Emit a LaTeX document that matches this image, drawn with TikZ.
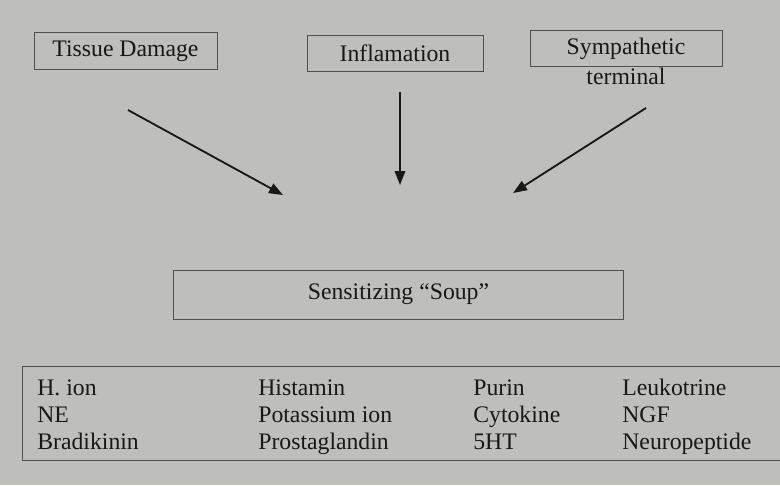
\documentclass[tikz,border=0pt]{standalone}
\usepackage{fontspec}
\setmainfont{Liberation Serif}
\usepackage{xcolor}
\usetikzlibrary{arrows.meta,positioning}
\definecolor{paper}{RGB}{190,190,186}
\definecolor{ink}{RGB}{24,24,24}
\definecolor{rule}{RGB}{80,80,80}

\begin{document}
\begin{tikzpicture}[
    x=0.02cm, y=-0.02cm,
    every node/.style={font=\fontsize{13.5}{15.5}\selectfont, text=ink},
    cause/.style={rectangle, draw=rule, line width=0.55pt, minimum height=0.73cm, inner sep=0pt},
    soup/.style={rectangle, draw=rule, line width=0.55pt, minimum width=9.02cm, minimum height=0.98cm, inner sep=0pt},
    listbox/.style={rectangle, draw=rule, line width=0.55pt, minimum width=15.36cm, minimum height=1.88cm, inner sep=0pt},
    item/.style={anchor=base west, inner sep=0pt},
    arrow/.style={-{Triangle[length=2.8mm, width=2.1mm]}, line width=1.05pt, draw=ink}
]
% Paper
\fill[paper] (0,0) rectangle (780,485);
\useasboundingbox (0,0) rectangle (780,485);

% Causes
\node[cause, minimum width=3.66cm] (tissue) at (125.5,51) {Tissue Damage};
\node[cause, minimum width=3.52cm] (inflam) at (395,53.5) {Inflamation};
\node[cause, minimum width=3.84cm] (symp) at (626,48.5) {Sympathetic};
\node[below=0pt of symp, inner sep=0pt] (terminal) {terminal};

% Soup
\node[soup] (soup) at (398.5,294.5) {Sensitizing “Soup”};

% Mediators
\node[listbox] (list) at (406,413) {};
\node[item] (hion) at (37,395) {H. ion};
\node[item] (ne) at (37,422) {NE};
\node[item] (bradikinin) at (37,449) {Bradikinin};
\node[item] (histamin) at (258,395) {Histamin};
\node[item] (potassium) at (258,422) {Potassium ion};
\node[item] (prostaglandin) at (258,449) {Prostaglandin};
\node[item] (purin) at (473,395) {Purin};
\node[item] (cytokine) at (473,422) {Cytokine};
\node[item] (fiveht) at (473,449) {5HT};
\node[item] (leukotrine) at (622,395) {Leukotrine};
\node[item] (ngf) at (622,422) {NGF};
\node[item] (neuropeptide) at (622,449) {Neuropeptide};

% Arrows
\coordinate (tissueTail) at (128,110);
\coordinate (tissueHead) at (283,195);
\coordinate (inflamTail) at (400,92);
\coordinate (inflamHead) at (400,185);
\coordinate (sympTail) at (646,108);
\coordinate (sympHead) at (513,193);
\draw[arrow] (tissueTail) -- (tissueHead);
\draw[arrow] (inflamTail) -- (inflamHead);
\draw[arrow] (sympTail) -- (sympHead);
\end{tikzpicture}
\end{document}
